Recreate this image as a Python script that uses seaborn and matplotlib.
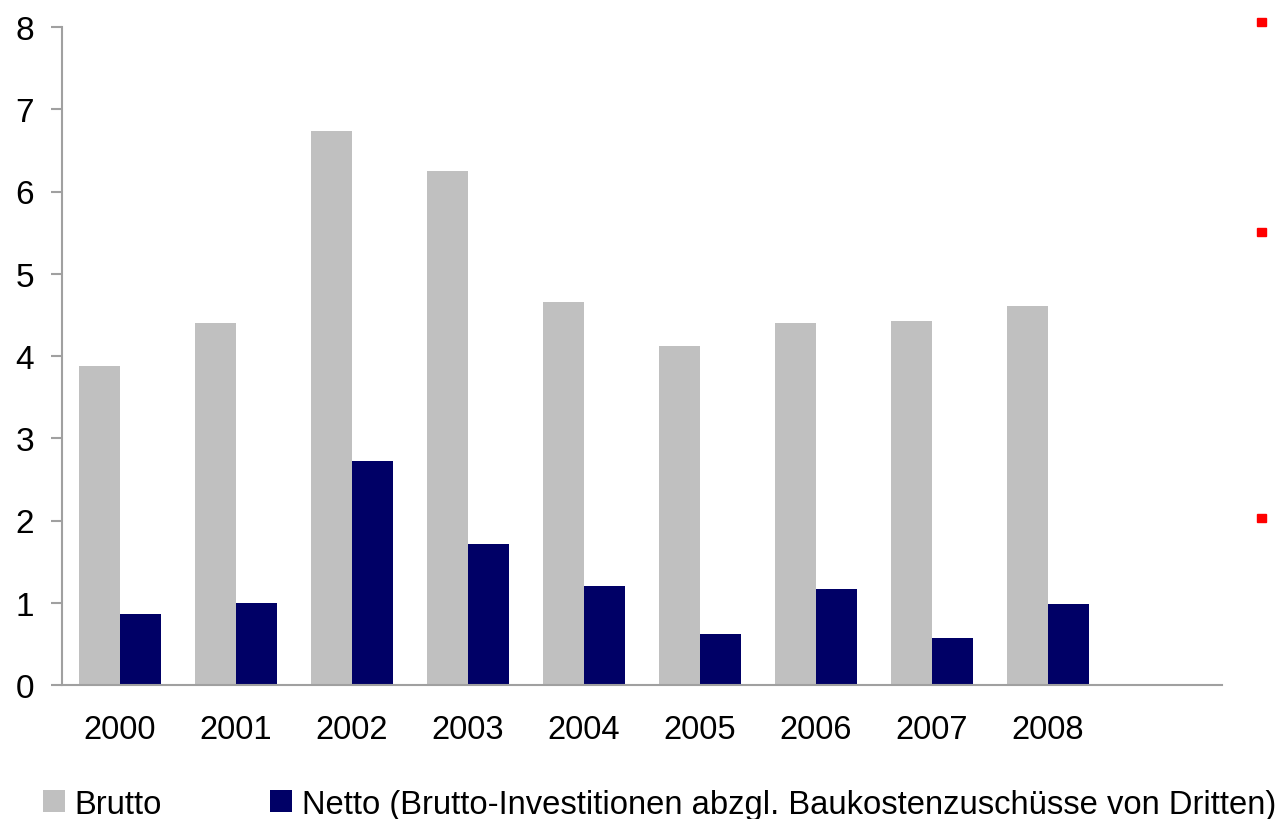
import pandas as pd
import seaborn as sns
import matplotlib.pyplot as plt
from matplotlib.patches import Rectangle

years = ["2000", "2001", "2002", "2003", "2004", "2005", "2006", "2007", "2008"]
brutto = [3.88, 4.40, 6.74, 6.25, 4.66, 4.12, 4.40, 4.43, 4.61]
netto = [0.86, 1.00, 2.72, 1.72, 1.20, 0.62, 1.17, 0.57, 0.99]
series_names = ["Brutto", "Netto (Brutto-Investitionen abzgl. Baukostenzuschüsse von Dritten)"]
y_ticks = [0, 1, 2, 3, 4, 5, 6, 7, 8]
# kleine rote Markierungen am rechten Rand (Figurkoordinaten)
marker_y = [0.967, 0.711, 0.362]

df = pd.DataFrame({
    "Jahr": years * 2,
    "Wert": brutto + netto,
    "Reihe": [series_names[0]] * len(years) + [series_names[1]] * len(years),
})

sns.set_style("white")
plt.rcParams["font.family"] = ["Liberation Sans", "DejaVu Sans"]
plt.rcParams["text.color"] = "black"
plt.rcParams["xtick.color"] = "black"
plt.rcParams["ytick.color"] = "black"

fig = plt.figure(figsize=(12.85, 8.2), dpi=100)
ax = fig.add_axes([62 / 1285, 1 - 686 / 820, 1160 / 1285, 658 / 820])

sns.barplot(data=df, x="Jahr", y="Wert", hue="Reihe", order=years,
            palette=["#C0C0C0", "#000066"], width=0.7, saturation=1,
            linewidth=0, edgecolor="none", ax=ax, legend=True)

ax.set_xlim(-0.5, 9.5)
ax.set_ylim(0, 8)
ax.set_yticks(y_ticks)
ax.set_xlabel("")
ax.set_ylabel("")
for s in ["top", "right"]:
    ax.spines[s].set_visible(False)
for s in ["left", "bottom"]:
    ax.spines[s].set_color("#a0a0a0")
    ax.spines[s].set_linewidth(1.5)
ax.tick_params(axis="y", length=8, width=1.5, color="#a0a0a0", labelcolor="black",
               labelsize=24, pad=12, left=True)
ax.tick_params(axis="x", length=0, labelsize=23.5, labelcolor="black", pad=21)

handles, labels = ax.get_legend_handles_labels()
ax.get_legend().remove()
fig.legend(handles, labels, loc="lower left", bbox_to_anchor=(0.0155, -0.029),
           ncol=2, frameon=False, fontsize=23.6, handlelength=0.67, handleheight=0.67,
           handletextpad=0.3, columnspacing=3.3, borderaxespad=0.3)

for y in marker_y:
    fig.patches.append(Rectangle((1257 / 1285, y), 9 / 1285, 8 / 820,
                                 transform=fig.transFigure, color="red", zorder=5))

fig.savefig("out.png", dpi=100)
